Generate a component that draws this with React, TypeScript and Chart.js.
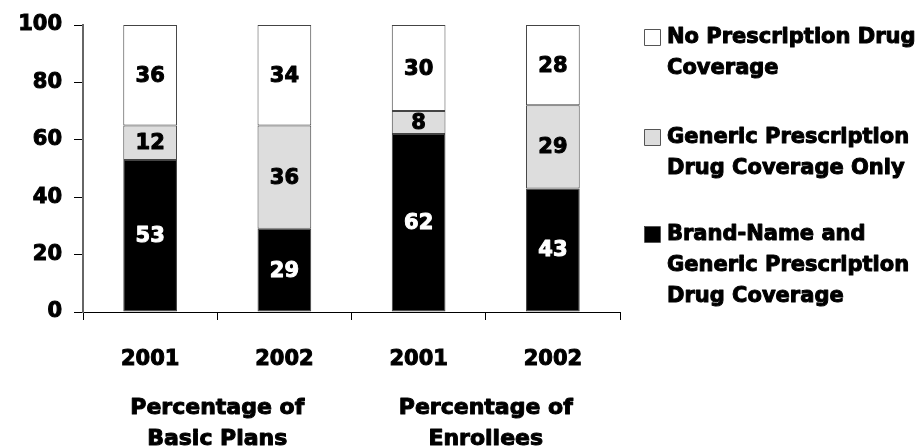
import React, { useEffect, useRef } from "react";
import { Chart, registerables } from "chart.js";

Chart.register(...registerables);

const categories = ["2001", "2002", "2001", "2002"];
const groupTitles = [
  ["Percentage of", "Basic Plans"],
  ["Percentage of", "Enrollees"],
];
const yTicks = [0, 20, 40, 60, 80, 100];

const brandValues = [53, 29, 62, 43];
const genericValues = [12, 36, 8, 29];
const noneValues = [35, 35, 30, 28];
const brandLabels = [53, 29, 62, 43];
const genericLabels = [12, 36, 8, 29];
const noneLabels = [36, 34, 30, 28];

const seriesNames = [
  ["Brand-Name and", "Generic Prescription", "Drug Coverage"],
  ["Generic Prescription", "Drug Coverage Only"],
  ["No Prescription Drug", "Coverage"],
];

const FONT = "'DejaVu Sans', 'Liberation Sans', sans-serif";
const STROKE = 1.0;

function heavyText(ctx: any, text: string, x: number, y: number, color: string) {
  ctx.fillStyle = color;
  ctx.strokeStyle = color;
  ctx.lineWidth = STROKE;
  ctx.lineJoin = "round";
  ctx.strokeText(text, x, y);
  ctx.fillText(text, x, y);
}

const labelPlugin = {
  id: "segLabels",
  afterDatasetsDraw(chart: any) {
    const ctx = chart.ctx;
    const labelSets = [brandLabels, genericLabels, noneLabels];
    const colors = ["#ffffff", "#000000", "#000000"];
    ctx.save();
    ctx.font = `bold 21px ${FONT}`;
    ctx.textAlign = "center";
    ctx.textBaseline = "middle";
    chart.data.datasets.forEach((ds: any, di: number) => {
      const meta = chart.getDatasetMeta(di);
      meta.data.forEach((bar: any, i: number) => {
        const props = bar.getProps(["x", "y", "base"], true);
        const cy = (props.y + props.base) / 2;
        heavyText(ctx, String(labelSets[di][i]), props.x, cy + 1, colors[di]);
      });
    });
    ctx.restore();
  },
};

const decorPlugin = {
  id: "decor",
  afterDraw(chart: any) {
    const ctx = chart.ctx;
    const xs = chart.scales.x;
    ctx.save();
    // group titles
    ctx.font = `bold 22px ${FONT}`;
    ctx.textAlign = "center";
    ctx.textBaseline = "middle";
    groupTitles.forEach((lines, g) => {
      const cx = (xs.getPixelForValue(g * 2) + xs.getPixelForValue(g * 2 + 1)) / 2;
      lines.forEach((line, li) => {
        heavyText(ctx, line, cx, 408 + li * 31, "#000");
      });
    });
    // legend (top item is the last dataset)
    ctx.font = `bold 21px ${FONT}`;
    ctx.textAlign = "left";
    const left = chart.chartArea.right + 47;
    const boxX = chart.chartArea.right + 24;
    const starts = [234, 137, 37];
    chart.data.datasets.forEach((ds: any, di: number) => {
      const y0 = starts[di];
      ctx.fillStyle = ds.backgroundColor;
      ctx.fillRect(boxX, y0 - 8, 16, 16);
      ctx.strokeStyle = "#555";
      ctx.lineWidth = 1;
      ctx.strokeRect(boxX + 0.5, y0 - 7.5, 16, 16);
      seriesNames[di].forEach((line, li) => {
        heavyText(ctx, line, left, y0 + li * 31 + 1, "#000");
      });
    });
    ctx.restore();
  },
};

export default function App() {
  const ref = useRef<HTMLCanvasElement>(null);
  useEffect(() => {
    if (!ref.current) return;
    const common = {
      borderColor: "#444",
      borderWidth: 1,
      borderSkipped: false,
      categoryPercentage: 0.8,
      barPercentage: 0.5,
    };
    const tickFont = { family: FONT, size: 21, weight: "bold" };
    const chart = new Chart(ref.current, {
      type: "bar",
      data: {
        labels: categories,
        datasets: [
          { label: seriesNames[0].join(" "), data: brandValues, backgroundColor: "#000000", ...common },
          { label: seriesNames[1].join(" "), data: genericValues, backgroundColor: "#dddddd", ...common },
          { label: seriesNames[2].join(" "), data: noneValues, backgroundColor: "#ffffff", ...common },
        ],
      },
      plugins: [labelPlugin, decorPlugin],
      options: {
        responsive: false,
        animation: false,
        layout: { padding: { left: 0, top: 25, right: 302, bottom: 0 } },
        plugins: { legend: { display: false }, tooltip: { enabled: false } },
        scales: {
          x: {
            stacked: true,
            offset: true,
            grid: {
              offset: true,
              drawOnChartArea: false,
              drawTicks: true,
              tickLength: 8,
              color: "#000",
            },
            border: { display: true, color: "#000", width: 1 },
            ticks: {
              color: "#000",
              font: tickFont,
              textStrokeColor: "#000",
              textStrokeWidth: STROKE,
              padding: 27,
              maxRotation: 0,
            },
            afterFit(s: any) {
              s.height = 135;
            },
          },
          y: {
            stacked: true,
            min: 0,
            max: 100,
            afterBuildTicks(s: any) {
              s.ticks = yTicks.map((v) => ({ value: v }));
            },
            grid: {
              drawOnChartArea: false,
              drawTicks: true,
              tickLength: 9,
              color: "#000",
            },
            border: { display: true, color: "#666", width: 2 },
            ticks: {
              color: "#000",
              font: tickFont,
              textStrokeColor: "#000",
              textStrokeWidth: STROKE,
              padding: 12,
            },
            afterFit(s: any) {
              s.width = 83;
            },
          },
        },
      } as any,
    });
    return () => chart.destroy();
  }, []);
  return (
    <div style={{ position: "fixed", left: 0, top: 0, width: 922, height: 447, background: "#fff" }}>
      <canvas ref={ref} width={922} height={447} style={{ width: 922, height: 447 }} />
    </div>
  );
}
